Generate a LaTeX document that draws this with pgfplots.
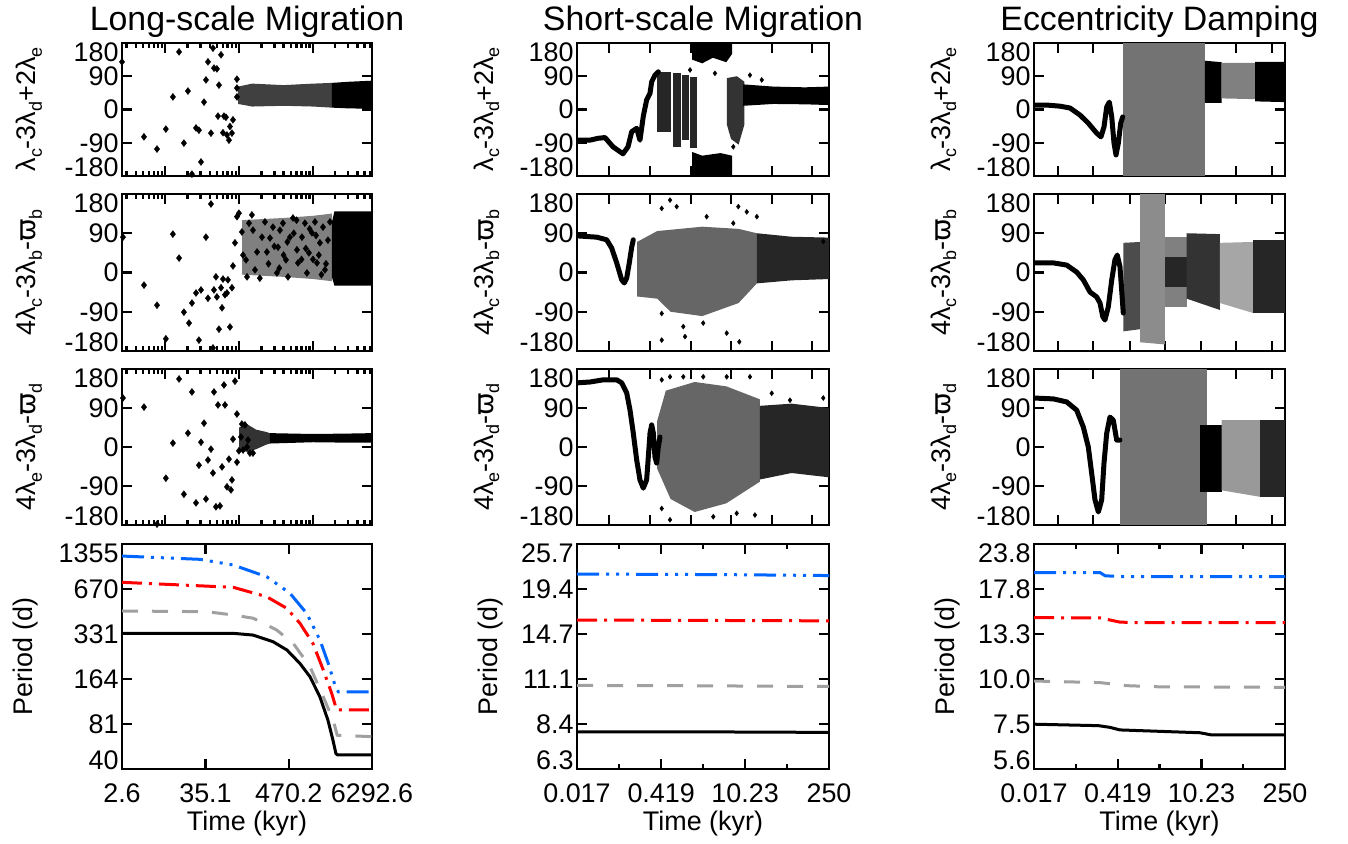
\documentclass[border=0pt]{standalone}
\usepackage{fontspec}
\setmainfont{Liberation Sans}
\newfontfamily\dvs{DejaVu Sans}
\usepackage{pgfplots}
\pgfplotsset{compat=1.18}

\definecolor{pblue}{RGB}{0,102,255}
\definecolor{pred}{RGB}{255,0,0}
\definecolor{pgray}{RGB}{160,160,160}

\newcommand{\sub}[1]{\raisebox{-6bp}{\fontsize{18}{18}\selectfont #1}}
% end labels sit inside the axis range, as in the original
\newcommand{\lo}[1]{\raisebox{-0.5bp}[0pt][0pt]{#1}}
\newcommand{\hi}[1]{\raisebox{-18.5bp}[0pt][0pt]{#1}}

\pgfplotsset{
  mybase/.style={scale only axis, anchor=south west,
    axis line style={line width=2.4bp},
    tick style={black, line width=2.4bp},
    tick align=inside, major tick length=10bp, minor tick length=5bp,
    tick label style={font=\fontsize{27}{27}\selectfont},
    every axis title/.style={at={(axis description cs:0.5,1)}, anchor=base,
      yshift=12bp, font=\fontsize{34}{34}\selectfont}},
  mylab/.style={every axis y label/.style={at={(axis description cs:0,0.5)},
      xshift=#1, rotate=90, anchor=base, font=\fontsize{27}{27}\selectfont}},
  myangle/.style={mybase, ymin=-180, ymax=180, ytick={-180,-90,0,90,180},
    yticklabels={\lo{-180},-90,0,90,\hi{180}}, xticklabels={}},
  myca/.style={xmin=2.6, xmax=6292.6, xtick={10,100,1000},
    minor xtick={3,4,5,6,7,8,9,20,30,40,50,60,70,80,90,200,300,400,500,600,700,800,900,2000,3000,4000,5000,6000}},
  mycb/.style={xmin=0.017, xmax=250, xtick={0.0575,0.274,1.30,6.0,28.5,131}},
  mycc/.style={xmin=0.017, xmax=250, xtick={0.0425,0.162,0.667,2.54,10.1,38.4,152}},
  myperiod/.style={mybase, xlabel={Time (kyr)}, ylabel={Period (d)},
    every axis x label/.style={at={(axis description cs:0.5,0)}, anchor=base,
      yshift=-62bp, font=\fontsize{27}{27}\selectfont},
    xticklabel style={yshift=-11bp}},
  mydots/.style={black, only marks, mark=diamond*, mark size=#1},
  mycurve/.style={black, line width=5bp, line join=round, line cap=round},
  lblue/.style={pblue, line width=3bp, dash pattern=on 22bp off 7bp on 3bp off 7bp on 3bp off 7bp on 3bp off 7bp},
  lred/.style={pred, line width=3bp, dash pattern=on 20bp off 7bp on 3bp off 7bp},
  lgray/.style={pgray, line width=3bp, dash pattern=on 16bp off 14bp},
  lblack/.style={black, line width=3bp},
}

\begin{document}
\begin{tikzpicture}
\path[use as bounding box] (0,0) rectangle (1348bp,844bp);

%% ================= column 1 : Long-scale Migration
\begin{semilogxaxis}[myangle, myca, at={(122bp,668bp)}, width=250bp, height=133bp, mylab=-86bp,
  ylabel={λ\sub{c}-3λ\sub{d}+2λ\sub{e}}, title={Long-scale Migration}]
\addplot[fill=black!75, draw=none] coordinates {(97,62)(150,70)(400,66)(1000,70)(1800,72)(1800,5)(1000,8)(400,10)(150,8)(97,15)} -- cycle;
\addplot[fill=black, draw=none] coordinates {(1800,72)(3000,75)(6292.6,78)(6292.6,2)(3000,3)(1800,5)} -- cycle;
\addplot[mydots=3.5bp] coordinates {(2.6,129)(5.16,-74)(7.74,-107)(10.2,-53)(12.7,34)(15.4,156)(17.9,-91)(20.3,50)(23.0,-175)(26.1,-50)(28.6,-56)(30.5,-142)(33.5,20)(35.6,80)(37.9,129)(41.6,-64)(44.3,166)(45.7,112)(50.1,110)(51.8,-18)(53.4,66)(56.9,148)(60.5,-63)(62.4,-18)(66.4,-21)(68.5,-69)(72.9,-83)(75.2,-46)(80.0,-64)(82.6,-28)(93.5,82)(93.5,58)(93.5,34)};
\end{semilogxaxis}

\begin{semilogxaxis}[myangle, myca, at={(122bp,493bp)}, width=250bp, height=157bp, mylab=-86bp,
  ylabel={4λ\sub{c}-3λ\sub{b}-{\dvs ϖ}\sub{b}}]
\addplot[fill=black!50, draw=none] coordinates {(110,120)(400,125)(1000,130)(1800,135)(1800,-20)(1000,-15)(400,-10)(110,-5)} -- cycle;
\addplot[fill=black, draw=none] coordinates {(1800,115)(1950,140)(6292.6,140)(6292.6,-30)(1950,-30)(1800,-10)} -- cycle;
\addplot[mydots=3.5bp] coordinates {(2.68,81)(5.16,-29)(7.74,-75)(10.2,-152)(12.7,88)(15.4,33)(17.9,-91)(21.0,-116)(23.0,-70)(26.1,-47)(28.6,-155)(30.5,-40)(35.6,81)(37.9,-59)(41.6,157)(44.3,-173)(45.7,-40)(48.6,-10)(50.1,-56)(53.4,-130)(56.9,-35)(58.7,-81)(60.5,-15)(64.4,-51)(68.5,-47)(70.6,-17)(75.2,-125)(80.0,-35)(82.6,15)(87.9,68)(93.5,128)(99.5,136)(109,93)(113,40)(124,29)(128,-10)(136,113)(149,132)(154,97)(164,6)(175,47)(191,-13)(204,81)(224,116)(238,47)(262,79)(287,104)(325,-1)(336,58)(357,97)(392,113)(431,29)(459,-10)(488,81)(536,125)(607,52)(626,22)(710,81)(778,113)(828,-1)(881,45)(968,91)(1063,116)(1132,22)(1241,68)(1365,104)(1452,6)(1594,74)(1698,116)(300,60)(400,40)(550,90)(700,30)(900,100)(1200,40)(1500,20)(600,120)(450,70)(800,55)(1100,85)(1300,-5)(1000,30)(250,20)(350,10)};
\end{semilogxaxis}

\begin{semilogxaxis}[myangle, myca, at={(122bp,319bp)}, width=250bp, height=156bp, mylab=-86bp,
  ylabel={4λ\sub{e}-3λ\sub{d}-{\dvs ϖ}\sub{d}}]
\addplot[fill=black!80, draw=none] coordinates {(100,45)(130,52)(170,40)(230,35)(260,32)(260,8)(230,5)(170,-5)(130,-12)(100,-5)} -- cycle;
\addplot[fill=black, draw=none] coordinates {(260,32)(1000,30)(3000,31)(6292.6,32)(6292.6,10)(3000,10)(1000,11)(260,8)} -- cycle;
\addplot[mydots=3.5bp] coordinates {(2.68,113)(5.16,92)(7.74,-178)(10.2,-72)(12.7,9)(15.4,157)(17.9,-109)(20.3,32)(23.0,127)(26.1,-129)(28.6,-42)(30.5,11)(33.5,55)(35.6,-120)(37.9,-30)(41.6,-5)(44.3,-60)(45.7,127)(48.6,-138)(51.8,97)(55.1,-136)(58.7,-46)(62.4,143)(64.4,97)(68.5,-92)(72.9,-28)(77.6,-99)(80.0,-76)(82.6,18)(87.9,152)(93.5,76)(93.5,-35)(99.5,-9)(106,23)(109,53)(113,-7)(120,51)(128,0)(132,16)(140,-14)(154,-14)};
\end{semilogxaxis}

\begin{loglogaxis}[myperiod, at={(122bp,75bp)}, width=250bp, height=225bp, mylab=-89bp,
  xmin=2.6, xmax=6292.6, xtick={2.6,35.1,470.2,6292.6}, xticklabels={2.6,35.1,470.2,6292.6},
  ymin=40.1, ymax=1355, ytick={40.1,81.08,163.9,331.4,670.1,1355}, yticklabels={\lo{40},81,164,331,670,\hi{1355}}]
\addplot[lblack] coordinates {(2.6,335)(82.6,335)(154,326)(287,294)(444,258)(666,209)(910,170)(1241,124)(1594,86)(1862,63)(2046,51)(2150,50)(6292.6,50)};
\addplot[lgray] coordinates {(2.6,475)(36.4,470)(83.4,446)(155.6,424)(322,353)(541,286)(910,199)(1377,124)(1879,86)(2128,68)(6292.6,66.5)};
\addplot[lred] coordinates {(2.6,744)(83.4,688)(236,594)(440,496)(666,392)(998,286)(1377,189)(1791,131)(2091,101)(6292.6,101)};
\addplot[lblue] coordinates {(2.6,1122)(29.5,1066)(83.4,975)(236,812)(488,627)(820,458)(1241,302)(1611,209)(1983,149)(2198,134)(6292.6,134)};
\end{loglogaxis}

%% ================= column 2 : Short-scale Migration
\begin{semilogxaxis}[myangle, mycb, at={(577bp,668bp)}, width=252bp, height=133bp, mylab=-84bp,
  ylabel={λ\sub{c}-3λ\sub{d}+2λ\sub{e}}, title={Short-scale Migration}]
\addplot[fill=black!85, draw=none] coordinates {(0.36,102)(0.62,102)(0.62,-60)(0.36,-60)} -- cycle;
\addplot[fill=black!85, draw=none] coordinates {(0.65,98)(0.88,98)(0.88,-101)(0.65,-101)} -- cycle;
\addplot[fill=black!85, draw=none] coordinates {(0.92,93)(1.2,93)(1.2,-83)(0.92,-83)} -- cycle;
\addplot[fill=black!85, draw=none] coordinates {(1.25,89)(1.64,89)(1.64,-104)(1.25,-104)} -- cycle;
\addplot[fill=black, draw=none] coordinates {(1.36,180)(6.22,180)(6.22,150)(5,128)(3,140)(2,125)(1.36,135)} -- cycle;
\addplot[fill=black, draw=none] coordinates {(1.36,-180)(6.22,-180)(6.22,-125)(4,-118)(2,-125)(1.36,-115)} -- cycle;
\addplot[fill=black!80, draw=none] coordinates {(5.1,85)(7.5,90)(10,75)(10,-40)(8,-95)(6,-80)(5.1,-40)} -- cycle;
\addplot[fill=black, draw=none] coordinates {(9.5,68)(30,62)(100,60)(250,62)(250,12)(100,14)(30,15)(9.5,10)} -- cycle;
\addplot[mycurve] coordinates {(0.017,-83)(0.0279,-83)(0.0378,-78)(0.0494,-76)(0.0669,-101)(0.098,-120)(0.1185,-101)(0.1365,-60)(0.165,-51)(0.187,-83)(0.212,-19)(0.241,26)(0.274,44)(0.292,75)(0.331,93)(0.376,102)};
\addplot[mydots=2.5bp] coordinates {(3.25,98)(12.3,93)(19.3,80)(6.54,-101)(1.26,107)};
\end{semilogxaxis}

\begin{semilogxaxis}[myangle, mycb, at={(577bp,493bp)}, width=252bp, height=157bp, mylab=-84bp,
  ylabel={4λ\sub{c}-3λ\sub{b}-{\dvs ϖ}\sub{b}}]
\addplot[fill=black!60, draw=none] coordinates {(0.167,70)(0.36,95)(2,105)(8,100)(16,90)(16,-25)(8,-70)(2,-100)(0.6,-90)(0.36,-60)(0.167,-55)} -- cycle;
\addplot[fill=black!85, draw=none] coordinates {(16,90)(60,82)(250,80)(250,-15)(60,-18)(16,-25)} -- cycle;
\addplot[mycurve] coordinates {(0.017,84)(0.036,81)(0.0526,75)(0.0637,56)(0.0771,22)(0.0933,-17)(0.103,-24)(0.1127,-13)(0.1245,22)(0.1364,58)(0.145,75)};
\addplot[mydots=2.5bp] coordinates {(0.428,147)(0.428,-94)(0.428,-155)(0.587,166)(0.757,151)(0.973,-124)(1.04,-147)(2.08,-116)(2.37,128)(5.08,-139)(6.54,113)(7.91,151)(8.22,-159)(10.9,139)(16.0,128)(201,71)};
\end{semilogxaxis}

\begin{semilogxaxis}[myangle, mycb, at={(577bp,319bp)}, width=252bp, height=156bp, mylab=-84bp,
  ylabel={4λ\sub{e}-3λ\sub{d}-{\dvs ϖ}\sub{d}}]
\addplot[fill=black!60, draw=none] coordinates {(0.36,60)(0.5,130)(1.5,150)(5,140)(18,110)(18,-80)(5,-130)(1.5,-150)(0.6,-120)(0.36,-50)} -- cycle;
\addplot[fill=black!85, draw=none] coordinates {(18,95)(60,100)(250,90)(250,-70)(60,-60)(18,-75)} -- cycle;
\addplot[mycurve] coordinates {(0.017,148)(0.0279,150)(0.0462,155)(0.0771,155)(0.0933,148)(0.1127,125)(0.128,85)(0.145,32)(0.165,-30)(0.187,-76)(0.212,-95)(0.241,-76)(0.257,-23)(0.274,32)(0.292,51)(0.311,32)(0.331,-23)(0.353,-37)(0.376,0)(0.401,23)};
\addplot[mydots=2.5bp] coordinates {(0.428,155)(0.428,-142)(0.587,-168)(0.587,162)(0.973,162)(2.08,162)(3.05,-161)(5.08,162)(7.43,-153)(12.3,162)(14.9,-157)(28.2,124)(56.6,108)(201,113)};
\end{semilogxaxis}

\begin{loglogaxis}[myperiod, at={(577bp,75bp)}, width=252bp, height=225bp, mylab=-80bp,
  xmin=0.017, xmax=250, xtick={0.017,0.419,10.23,250}, xticklabels={0.017,0.419,10.23,250},
  minor xtick={0.0844,2.07,50.6},
  ymin=6.3, ymax=25.7, ytick={6.3,8.346,11.056,14.65,19.40,25.7}, yticklabels={\lo{6.3},8.4,11.1,14.7,19.4,\hi{25.7}}]
\addplot[lblack] coordinates {(0.017,7.95)(1,7.95)(250,7.92)};
\addplot[lgray] coordinates {(0.017,10.62)(1,10.6)(250,10.55)};
\addplot[lred] coordinates {(0.017,15.98)(1,15.95)(250,15.9)};
\addplot[lblue] coordinates {(0.017,21.3)(1,21.25)(10,21.2)(250,21.1)};
\end{loglogaxis}

%% ================= column 3 : Eccentricity Damping
\begin{semilogxaxis}[myangle, mycc, at={(1034bp,668bp)}, width=251bp, height=133bp, mylab=-84bp,
  ylabel={λ\sub{c}-3λ\sub{d}+2λ\sub{e}}, title={Eccentricity Damping}]
\addplot[fill=black!55, draw=none] coordinates {(0.52,180)(11.7,180)(11.7,-180)(0.52,-180)} -- cycle;
\addplot[fill=black, draw=none] coordinates {(11.7,132)(22.2,128)(22.2,18)(11.7,18)} -- cycle;
\addplot[fill=black!50, draw=none] coordinates {(22.2,126)(79.5,126)(79.5,28)(22.2,30)} -- cycle;
\addplot[fill=black, draw=none] coordinates {(79.5,129)(250,129)(250,20)(79.5,22)} -- cycle;
\addplot[mycurve] coordinates {(0.017,12)(0.0276,12)(0.0459,9)(0.0673,4)(0.0986,-15)(0.1355,-37)(0.1866,-64)(0.220,-74)(0.247,-47)(0.274,7)(0.303,20)(0.332,-20)(0.362,-91)(0.391,-123)(0.427,-91)(0.468,-37)(0.505,-20)};
\end{semilogxaxis}

\begin{semilogxaxis}[myangle, mycc, at={(1034bp,493bp)}, width=251bp, height=157bp, mylab=-84bp,
  ylabel={4λ\sub{c}-3λ\sub{b}-{\dvs ϖ}\sub{b}}]
\addplot[fill=black!70, draw=none] coordinates {(0.52,68)(0.98,70)(0.98,-130)(0.52,-135)} -- cycle;
\addplot[fill=black!45, draw=none] coordinates {(0.98,180)(2.54,180)(2.54,-165)(0.98,-160)} -- cycle;
\addplot[fill=black!50, draw=none] coordinates {(2.54,81)(5.84,81)(5.84,-79)(2.54,-79)} -- cycle;
\addplot[fill=black!85, draw=none] coordinates {(2.54,36)(5.84,36)(5.84,-33)(2.54,-33)} -- cycle;
\addplot[fill=black!80, draw=none] coordinates {(5.84,90)(20.8,88)(20.8,-86)(5.84,-60)} -- cycle;
\addplot[fill=black!35, draw=none] coordinates {(20.8,68)(74.3,70)(74.3,-93)(20.8,-70)} -- cycle;
\addplot[fill=black!85, draw=none] coordinates {(74.3,75)(250,75)(250,-93)(74.3,-93)} -- cycle;
\addplot[mycurve] coordinates {(0.017,22)(0.0356,22)(0.0593,17)(0.0869,1)(0.112,-17)(0.145,-45)(0.1866,-56)(0.212,-70)(0.235,-101)(0.256,-109)(0.291,-79)(0.332,-17)(0.375,29)(0.410,40)(0.455,13)(0.485,-40)(0.516,-93)};
\end{semilogxaxis}

\begin{semilogxaxis}[myangle, mycc, at={(1034bp,319bp)}, width=251bp, height=156bp, mylab=-84bp,
  ylabel={4λ\sub{e}-3λ\sub{d}-{\dvs ϖ}\sub{d}}]
\addplot[fill=black!55, draw=none] coordinates {(0.455,180)(12.5,180)(12.5,-180)(0.455,-180)} -- cycle;
\addplot[fill=black, draw=none] coordinates {(9.69,51)(22.2,51)(22.2,-104)(9.69,-104)} -- cycle;
\addplot[fill=black!40, draw=none] coordinates {(22.2,62)(96.1,62)(96.1,-115)(22.2,-100)} -- cycle;
\addplot[fill=black!85, draw=none] coordinates {(96.1,62)(250,62)(250,-115)(96.1,-115)} -- cycle;
\addplot[mycurve] coordinates {(0.017,113)(0.0356,111)(0.0593,104)(0.0869,85)(0.112,46)(0.1355,0)(0.154,-60)(0.175,-122)(0.199,-150)(0.226,-122)(0.247,-37)(0.274,32)(0.310,69)(0.352,62)(0.401,16)(0.455,16)};
\end{semilogxaxis}

\begin{loglogaxis}[myperiod, at={(1034bp,75bp)}, width=251bp, height=225bp, mylab=-80bp,
  xmin=0.017, xmax=250, xtick={0.017,0.419,10.23,250}, xticklabels={0.017,0.419,10.23,250},
  minor xtick={0.0844,2.07,50.6},
  ymin=5.6, ymax=23.8, ytick={5.6,7.479,9.989,13.34,17.82,23.8}, yticklabels={\lo{5.6},7.5,10.0,13.3,17.8,\hi{23.8}}]
\addplot[lblack] coordinates {(0.017,7.47)(0.2,7.40)(0.310,7.32)(0.455,7.20)(9.7,7.07)(15.1,6.97)(250,6.97)};
\addplot[lgray] coordinates {(0.017,9.86)(0.212,9.76)(0.588,9.57)(2,9.5)(250,9.47)};
\addplot[lred] coordinates {(0.017,14.82)(0.212,14.8)(0.455,14.4)(1,14.35)(250,14.35)};
\addplot[lblue] coordinates {(0.017,19.8)(0.212,19.8)(0.26,19.4)(0.5,19.3)(250,19.3)};
\end{loglogaxis}
\end{tikzpicture}
\end{document}
